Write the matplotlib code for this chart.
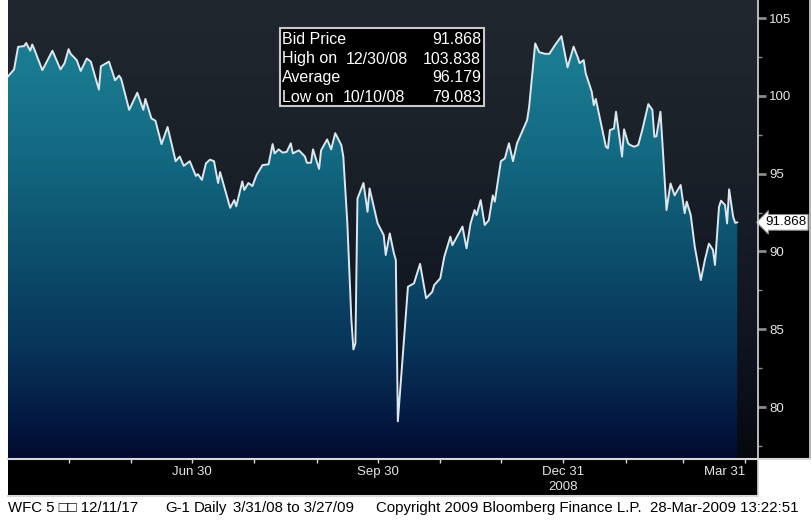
import numpy as np
import pandas as pd
import matplotlib
matplotlib.use('Agg')
import matplotlib.pyplot as plt
import matplotlib.dates as mdates
from matplotlib.colors import LinearSegmentedColormap
from matplotlib.patches import Rectangle, Polygon
from matplotlib.lines import Line2D
from matplotlib.ticker import FixedLocator, MultipleLocator, NullFormatter
import matplotlib.transforms as mtransforms

# bid price trace
dates = [
    '2008-03-31', '2008-04-03', '2008-04-05', '2008-04-08', '2008-04-09', '2008-04-11',
    '2008-04-12', '2008-04-13', '2008-04-17', '2008-04-22', '2008-04-23', '2008-04-26',
    '2008-04-28', '2008-04-30', '2008-05-01', '2008-05-04', '2008-05-06', '2008-05-09',
    '2008-05-11', '2008-05-15', '2008-05-16', '2008-05-20', '2008-05-23', '2008-05-25',
    '2008-05-26', '2008-05-30', '2008-06-03', '2008-06-06', '2008-06-07', '2008-06-10',
    '2008-06-12', '2008-06-15', '2008-06-18', '2008-06-22', '2008-06-24', '2008-06-26',
    '2008-06-29', '2008-07-02', '2008-07-03', '2008-07-05', '2008-07-07', '2008-07-09',
    '2008-07-11', '2008-07-13', '2008-07-14', '2008-07-19', '2008-07-21', '2008-07-22',
    '2008-07-25', '2008-07-26', '2008-07-28', '2008-07-30', '2008-08-01', '2008-08-04',
    '2008-08-07', '2008-08-09', '2008-08-10', '2008-08-12', '2008-08-14', '2008-08-16',
    '2008-08-18', '2008-08-19', '2008-08-22', '2008-08-25', '2008-08-26', '2008-08-28',
    '2008-08-29', '2008-09-01', '2008-09-02', '2008-09-05', '2008-09-07', '2008-09-09',
    '2008-09-12', '2008-09-13', '2008-09-15', '2008-09-17', '2008-09-18', '2008-09-19',
    '2008-09-20', '2008-09-23', '2008-09-25', '2008-09-26', '2008-09-30', '2008-10-03',
    '2008-10-04', '2008-10-06', '2008-10-08', '2008-10-09', '2008-10-10', '2008-10-15',
    '2008-10-18', '2008-10-21', '2008-10-24', '2008-10-27', '2008-10-28', '2008-10-31',
    '2008-11-02', '2008-11-05', '2008-11-06', '2008-11-11', '2008-11-13', '2008-11-15',
    '2008-11-17', '2008-11-18', '2008-11-20', '2008-11-22', '2008-11-24', '2008-11-26',
    '2008-11-27', '2008-11-30', '2008-12-02', '2008-12-04', '2008-12-06', '2008-12-08',
    '2008-12-13', '2008-12-14', '2008-12-17', '2008-12-19', '2008-12-22', '2008-12-24',
    '2008-12-27', '2008-12-30', '2008-12-31', '2009-01-02', '2009-01-05', '2009-01-07',
    '2009-01-08', '2009-01-10', '2009-01-11', '2009-01-14', '2009-01-15', '2009-01-16',
    '2009-01-21', '2009-01-22', '2009-01-23', '2009-01-25', '2009-01-26', '2009-01-29',
    '2009-01-30', '2009-02-01', '2009-02-02', '2009-02-04', '2009-02-06', '2009-02-08',
    '2009-02-11', '2009-02-13', '2009-02-14', '2009-02-15', '2009-02-17', '2009-02-18',
    '2009-02-20', '2009-02-22', '2009-02-24', '2009-02-27', '2009-03-01', '2009-03-02',
    '2009-03-04', '2009-03-06', '2009-03-09', '2009-03-11', '2009-03-13', '2009-03-15',
    '2009-03-16', '2009-03-18', '2009-03-19', '2009-03-21', '2009-03-22', '2009-03-23',
    '2009-03-25', '2009-03-26', '2009-03-27',
]
prices = [
    101.25, 101.7, 103.15, 103.2, 103.4, 102.9,
    103.3, 103.0, 101.65, 102.9, 102.6, 101.7,
    102.1, 103.0, 102.7, 102.3, 101.6, 102.4,
    102.2, 100.4, 101.9, 102.2, 101.0, 101.3,
    101.1, 99.1, 100.2, 99.1, 99.8, 98.55,
    98.4, 96.9, 98.0, 95.8, 96.1, 95.5,
    95.8, 94.85, 94.97, 94.6, 95.66, 95.9,
    95.8, 94.4, 95.1, 92.8, 93.3, 92.9,
    94.5, 93.95, 94.4, 94.2, 94.9, 95.55,
    95.6, 96.9, 96.3, 96.56, 96.35, 96.4,
    96.95, 96.3, 96.5, 96.1, 95.7, 95.7,
    96.56, 95.3, 96.5, 97.2, 96.56, 97.6,
    96.84, 96.1, 91.8, 85.6, 83.7, 84.1,
    93.4, 94.4, 92.55, 94.05, 91.8, 91.05,
    89.77, 91.16, 89.9, 89.45, 79.083, 87.73,
    87.95, 89.2, 86.99, 87.4, 87.84, 88.27,
    89.66, 90.95, 90.4, 91.6, 90.2, 91.8,
    92.66, 92.34, 93.3, 91.7, 92.0, 93.6,
    93.2, 95.8, 95.98, 96.95, 95.8, 96.95,
    98.44, 99.3, 103.37, 102.8, 102.7, 102.7,
    103.3, 103.838, 103.16, 101.83, 103.16, 102.5,
    102.1, 102.3, 101.45, 100.26, 99.4, 99.8,
    96.73, 96.63, 97.8, 97.9, 98.98, 96.1,
    97.85, 96.95, 96.84, 96.73, 96.84, 97.8,
    99.47, 99.1, 97.37, 97.4, 98.98, 96.95,
    92.66, 94.37, 93.6, 94.27, 92.45, 93.2,
    92.34, 90.3, 88.16, 89.45, 90.5, 90.1,
    89.13, 92.87, 93.26, 92.98, 91.8, 93.99,
    92.23, 91.84, 91.868,
]

# summary box
info_labels = ['Bid Price', 'High on', 'Average', 'Low on']
info_dates = ['', '12/30/08', '', '10/10/08']
info_values = ['91.868', '103.838', '96.179', '79.083']
last_label = '91.868'

month_ends = ['2008-04-30', '2008-05-31', '2008-06-30', '2008-07-31', '2008-08-31',
              '2008-09-30', '2008-10-31', '2008-11-30', '2008-12-31', '2009-01-31',
              '2009-02-28', '2009-03-31']
label_ticks = ['2008-06-30', '2008-09-30', '2008-12-31', '2009-03-31']
label_text = ['Jun 30', 'Sep 30', 'Dec 31', 'Mar 31']

footer = [('WFC 5 \u25a1\u25a1 12/11/17', 8), ('G-1', 165), ('Daily', 194),
          ('3/31/08 to 3/27/09', 233), ('Copyright 2009 Bloomberg Finance L.P.', 376),
          ('28-Mar-2009 13:22:51', 650)]

plt.rcParams['font.family'] = ['Liberation Sans', 'DejaVu Sans']

W, H = 812, 521


def rect(x0, y0, x1, y1):
    # pixel box, origin top-left -> figure fraction
    return [x0 / W, 1 - y1 / H, (x1 - x0) / W, (y1 - y0) / H]


def px(x, y):
    return x / W, 1 - y / H


def fig_box(x0, y0, x1, y1, **kw):
    l, b, w, h = rect(x0, y0, x1, y1)
    return Rectangle((l, b), w, h, transform=fig.transFigure, **kw)


def fig_line(xs, ys, **kw):
    fig.add_artist(Line2D([v / W for v in xs], [1 - v / H for v in ys],
                          transform=fig.transFigure, **kw))


fig = plt.figure(figsize=(W / 100, H / 100), dpi=100)
fig.patch.set_facecolor('white')

# black panels behind the axes labels
fig.patches.append(fig_box(758, 0, 812, 459, facecolor='black', edgecolor='none', zorder=-5))
fig.patches.append(fig_box(8, 459, 758, 496, facecolor='black', edgecolor='none', zorder=-5))

ax = fig.add_axes(rect(8, 0, 758, 459))
x = mdates.date2num(pd.to_datetime(dates))
xmin = mdates.date2num(pd.Timestamp('2008-03-31'))
xmax = xmin + 371.3
ymin, ymax = 76.66, 106.16

grad = np.linspace(0, 1, 256).reshape(-1, 1)
bg_cmap = LinearSegmentedColormap.from_list(
    'bg', [(0, '#06080e'), (0.09, '#0a0d16'), (0.34, '#121722'), (0.67, '#1b2129'), (1, '#20272e')])
fill_cmap = LinearSegmentedColormap.from_list(
    'fill', [(0, '#020a2e'), (0.09, '#041a42'), (0.24, '#08345a'), (0.46, '#0d506e'),
             (0.67, '#136a82'), (0.9, '#1b7e93'), (1, '#1e8598')])
ax.imshow(grad, extent=[xmin, xmax, ymin, ymax], origin='lower', aspect='auto',
          cmap=bg_cmap, zorder=0, interpolation='bilinear')
im = ax.imshow(grad, extent=[xmin, xmax, ymin, ymax], origin='lower', aspect='auto',
               cmap=fill_cmap, zorder=1, interpolation='bilinear')
verts = [(x[0], ymin)] + list(zip(x, prices)) + [(x[-1], ymin)]
area = Polygon(verts, closed=True, facecolor='none', edgecolor='none')
ax.add_patch(area)
im.set_clip_path(area)

ax.plot(x, prices, color='#dde8ee', lw=1.4, zorder=3)

ax.set_xlim(xmin, xmax)
ax.set_ylim(ymin, ymax)
for s in ['top', 'left', 'right']:
    ax.spines[s].set_visible(False)
ax.spines['bottom'].set_color('#d8d8d8')
ax.spines['bottom'].set_linewidth(1.5)

# x axis
ax.xaxis.set_major_locator(FixedLocator(mdates.date2num(pd.to_datetime(label_ticks))))
ax.set_xticklabels(label_text)
ax.xaxis.set_minor_locator(FixedLocator(mdates.date2num(pd.to_datetime(month_ends))))
ax.xaxis.set_minor_formatter(NullFormatter())
ax.tick_params(axis='x', which='both', direction='out', length=3, width=1,
               color='#d8d8d8', labelcolor='#e6e6e6', labelsize=9.5, pad=2)
# last date label sits left of its tick so it stays inside the panel
ax.get_xticklabels()[-1].set_horizontalalignment('right')

# y axis on the right
ax.yaxis.tick_right()
ax.yaxis.set_major_locator(MultipleLocator(5))
ax.yaxis.set_minor_locator(MultipleLocator(2.5))
ax.tick_params(axis='y', which='major', direction='out', length=6, width=2,
               color='#8a8a8a', labelcolor='#e6e6e6', labelsize=9.5, pad=2)
ax.tick_params(axis='y', which='minor', direction='out', length=3, width=1,
               color='#8a8a8a')

# frame lines of the right panel and date panel
fig_line([758, 758], [0, 459], color='#d8d8d8', lw=1.2)
fig_line([758, 810], [459, 459], color='#d8d8d8', lw=1.5)
fig_line([810, 810], [0, 459], color='#d8d8d8', lw=1.2)
fig_line([8, 758], [496, 496], color='#d8d8d8', lw=1.5)
fig_line([758, 758], [459, 496], color='#d8d8d8', lw=1.2)

fig.text(*px(563, 487), '2008', color='#e6e6e6', fontsize=9.5, ha='center', va='center')

# last price tag
trans = mtransforms.blended_transform_factory(ax.transAxes, ax.transData)
ax.text(1.0093, prices[-1], last_label, transform=trans, ha='left', va='center',
        fontsize=9.6, color='black', zorder=5, clip_on=False,
        bbox=dict(boxstyle='larrow,pad=0.14', facecolor='white', edgecolor='#888888', lw=0.8))

# summary box
fig.patches.append(fig_box(280, 28, 484, 106, facecolor='black', edgecolor='#c8c8c8',
                           lw=1.5, zorder=5))
row_y = [40, 59, 78, 97]
for lab, d, v, yy in zip(info_labels, info_dates, info_values, row_y):
    fig.text(*px(282, yy), lab, color='white', fontsize=11.5, ha='left', va='center', zorder=6)
    if d:
        fig.text(*px(408 if d.startswith('12') else 405, yy), d, color='white', fontsize=11.5,
                 ha='right', va='center', zorder=6)
    fig.text(*px(481, yy), v, color='white', fontsize=11.5, ha='right', va='center', zorder=6)

# footer
for txt, fx in footer:
    fig.text(*px(fx, 508), txt, color='black', fontsize=10.8, ha='left', va='center')

fig.savefig('out.png', dpi=100, facecolor=fig.get_facecolor())
